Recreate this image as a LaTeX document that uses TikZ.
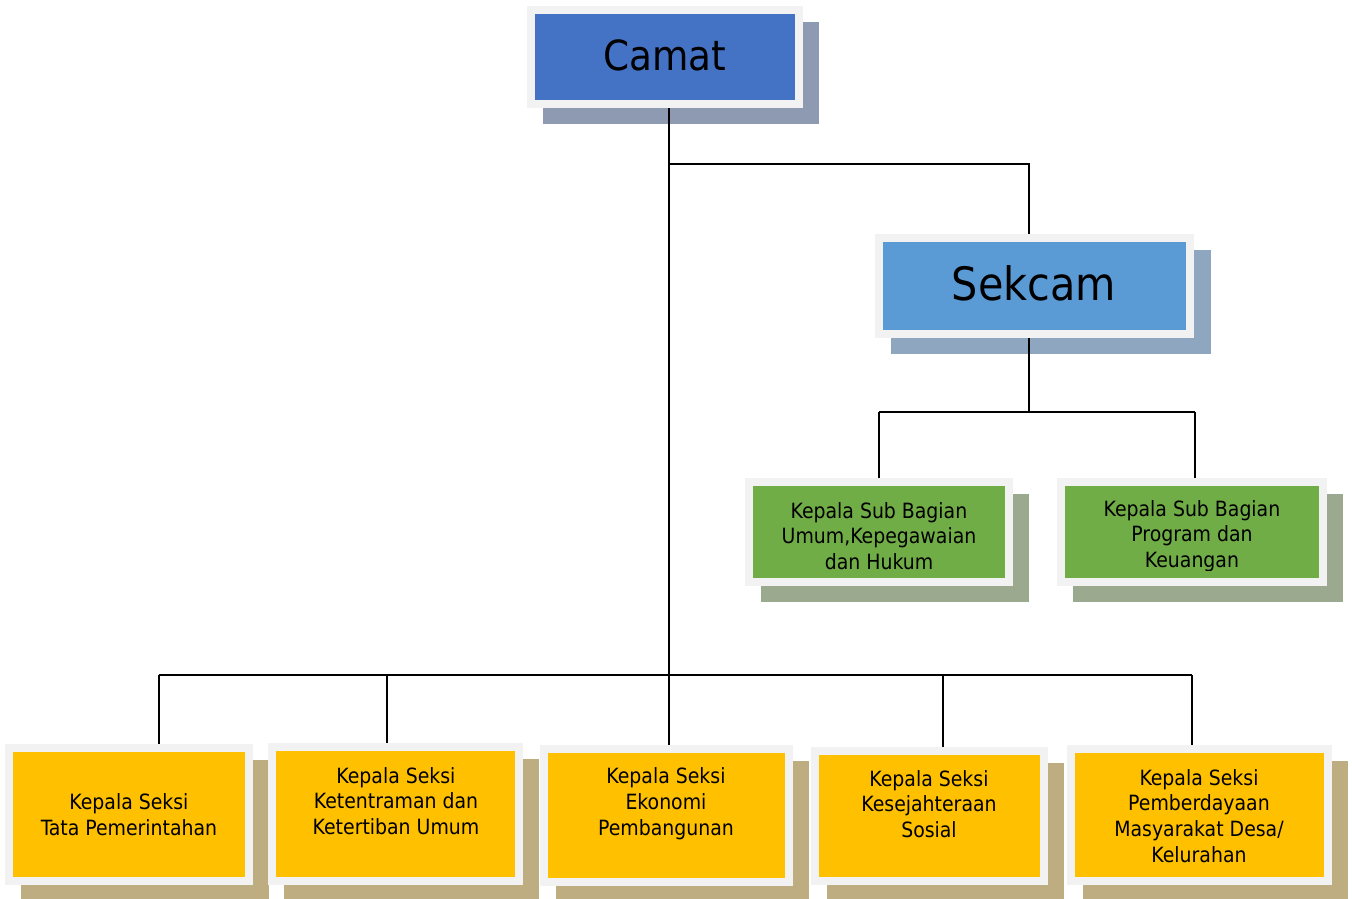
\documentclass[tikz,border=0pt]{standalone}
\usepackage{fontspec}
\setmainfont{DejaVu Sans Condensed}
\usetikzlibrary{calc,backgrounds}
\definecolor{framegray}{HTML}{F2F2F2}
\definecolor{camatblue}{HTML}{4472C4}
\definecolor{sekblue}{HTML}{5B9BD5}
\definecolor{subgreen}{HTML}{70AD47}
\definecolor{seksiyellow}{HTML}{FFC000}
\definecolor{shcamat}{HTML}{8E9AB2}
\definecolor{shsek}{HTML}{8EA6BF}
\definecolor{shgreen}{HTML}{9BAA8E}
\definecolor{shyellow}{HTML}{BEAD80}
\begin{document}
\begin{tikzpicture}[x=1pt,y=-1pt,
  box/.style={draw=framegray,line width=8pt,inner sep=0pt},
  txt/.style={align=center,inner sep=0pt,text=black,font=\fontsize{21}{25.8}\selectfont},
  conn/.style={draw=black,line width=2pt}]
\useasboundingbox (0,0) rectangle (1352,898);

% boxes
\node[box,fill=camatblue,minimum width=268pt,minimum height=94pt] (camat) at (665,57) {};
\node[box,fill=sekblue,minimum width=311pt,minimum height=96pt] (sekcam) at (1034.5,286) {};
\node[box,fill=subgreen,minimum width=260pt,minimum height=100pt] (g1) at (879,532) {};
\node[box,fill=subgreen,minimum width=262pt,minimum height=100pt] (g2) at (1192,532) {};
\node[box,fill=seksiyellow,minimum width=240pt,minimum height=133pt] (y1) at (129,814.5) {};
\node[box,fill=seksiyellow,minimum width=247pt,minimum height=134pt] (y2) at (395.5,814) {};
\node[box,fill=seksiyellow,minimum width=245pt,minimum height=133pt] (y3) at (666.5,815.5) {};
\node[box,fill=seksiyellow,minimum width=229pt,minimum height=130pt] (y4) at (929.5,816) {};
\node[box,fill=seksiyellow,minimum width=257pt,minimum height=132pt] (y5) at (1199.5,815) {};

% shadows and background
\begin{scope}[on background layer]
  \fill[white] (0,0) rectangle (1352,898);
  \fill[shcamat] ($(camat.north west)+(16,16)$) rectangle ($(camat.south east)+(16,16)$);
  \fill[shsek] ($(sekcam.north west)+(16,16)$) rectangle ($(sekcam.south east)+(17,16)$);
  \foreach \n in {g1,g2}
    \fill[shgreen] ($(\n.north west)+(16,16)$) rectangle ($(\n.south east)+(16,16)$);
  \foreach \n in {y1,y2,y3,y4,y5}
    \fill[shyellow] ($(\n.north west)+(16,16)$) rectangle ($(\n.south east)+(16,16)$);
\end{scope}

% texts
\node[inner sep=0pt,font=\fontsize{41.5}{48}\selectfont] (tcamat) at (665,55) {Camat};
\node[inner sep=0pt,font=\fontsize{46}{54}\selectfont] (tsek) at (1034,283) {Sekcam};
\begin{scope}
  \clip (740,480) rectangle (1340,570);
  \node[txt] (tg1) at (879,536) {Kepala Sub Bagian\\Umum,Kepegawaian\\dan Hukum};
  \node[txt] (tg2) at (1192,536) {Kepala Sub Bagian\\Program dan\\Keuangan};
\end{scope}
\node[txt] (ty1) at (129,815) {Kepala Seksi\\Tata Pemerintahan};
\node[txt] (ty2) at (396,801) {Kepala Seksi\\Ketentraman dan\\Ketertiban Umum};
\node[txt] (ty3) at (666,803.5) {Kepala Seksi\\Ekonomi\\Pembangunan};
\node[txt] (ty4) at (929,804) {Kepala Seksi\\Kesejahteraan\\Sosial};
\node[txt] (ty5) at (1199,816) {Kepala Seksi\\Pemberdayaan\\Masyarakat Desa/\\Kelurahan};

% connector junctions
\coordinate (j1) at (669,164);
\coordinate (s1) at (1029,164);
\coordinate (s2) at (1029,412);
\coordinate (gb1) at (879,412);
\coordinate (gb2) at (1195,412);
\coordinate (b1) at (159,675);
\coordinate (b2) at (387,675);
\coordinate (b3) at (669,675);
\coordinate (b4) at (943,675);
\coordinate (b5) at (1192,675);

% connectors
\draw[conn] (camat.south -| b3) -- (b3);
\draw[conn] (j1) -- (s1) -- (s1 |- sekcam.north);
\draw[conn] (sekcam.south -| s2) -- (s2);
\draw[conn] (gb1) -- (gb2);
\draw[conn] (gb1) -- (gb1 |- g1.north);
\draw[conn] (gb2) -- (gb2 |- g2.north);
\draw[conn] (b1) -- (b5);
\draw[conn] (b1) -- (b1 |- y1.north);
\draw[conn] (b2) -- (b2 |- y2.north);
\draw[conn] (b4) -- (b4 |- y4.north);
\draw[conn] (b5) -- (b5 |- y5.north);
\draw[conn] (b3) -- (b3 |- y3.north);
\end{tikzpicture}
\end{document}
